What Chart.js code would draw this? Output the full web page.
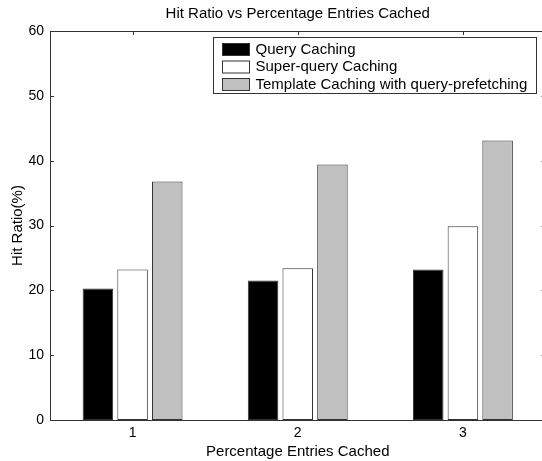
<!DOCTYPE html>
<html>
<head>
<meta charset="utf-8">
<script src="https://cdn.jsdelivr.net/npm/chart.js@4.4.0/dist/chart.umd.min.js"></script>
<style>
  html, body { margin: 0; padding: 0; background: #fff; overflow: hidden; }
  #wrap { width: 560px; height: 461px; }
</style>
</head>
<body>
<div id="wrap"><canvas id="mycanvas" width="560" height="461"></canvas></div>
<script>
var categories = ['1', '2', '3'];
var queryCaching = [20.3, 21.5, 23.2];
var superQueryCaching = [23.2, 23.4, 29.9];
var templateCaching = [36.8, 39.4, 43.1];
var yTicks = [0, 10, 20, 30, 40, 50, 60];
var chartTitle = 'Hit Ratio vs Percentage Entries Cached';

var FONT = '"Liberation Sans", Arial, Helvetica, sans-serif';
var EDGE = '#333333';

// matlab style box with inward ticks, title centred on the axes
var matlabAxes = {
	id: 'matlabAxes',
	beforeDatasetsDraw: function(chart) {
		var ctx = chart.ctx, a = chart.chartArea;
		var xs = chart.scales.x, ys = chart.scales.y;
		ctx.save();
		ctx.strokeStyle = EDGE;
		ctx.lineWidth = 1;
		ctx.beginPath();
		for (var i = 0; i < yTicks.length; i++) {
			var py = Math.round(ys.getPixelForValue(yTicks[i])) + 0.5;
			ctx.moveTo(a.left, py); ctx.lineTo(a.left + 4, py);
			ctx.moveTo(a.right, py); ctx.lineTo(a.right - 4, py);
		}
		for (var j = 0; j < categories.length; j++) {
			var px = Math.round(xs.getPixelForValue(j)) + 0.5;
			ctx.moveTo(px, a.top); ctx.lineTo(px, a.top + 4);
			ctx.moveTo(px, a.bottom); ctx.lineTo(px, a.bottom - 4);
		}
		ctx.stroke();
		ctx.fillStyle = '#000';
		ctx.font = '15px ' + FONT;
		ctx.textAlign = 'center';
		ctx.textBaseline = 'middle';
		ctx.fillText(chartTitle, (a.left + a.right) / 2, 14);
		ctx.restore();
	},
	afterDatasetsDraw: function(chart) {
		var ctx = chart.ctx, a = chart.chartArea;
		ctx.save();
		ctx.strokeStyle = EDGE;
		ctx.lineWidth = 1;
		ctx.strokeRect(Math.round(a.left) + 0.5, Math.round(a.top) + 0.5,
			Math.round(a.right - a.left), Math.round(a.bottom - a.top));
		ctx.restore();
	}
};

var boxLegend = {
	id: 'boxLegend',
	afterDraw: function(chart) {
		var ctx = chart.ctx;
		var ds = chart.data.datasets;
		ctx.save();
		ctx.fillStyle = '#fff';
		ctx.fillRect(213.5, 37.5, 323, 56);
		ctx.strokeStyle = EDGE;
		ctx.lineWidth = 1;
		ctx.strokeRect(213.5, 37.5, 323, 56);
		ctx.font = '15px ' + FONT;
		ctx.textBaseline = 'middle';
		for (var i = 0; i < ds.length; i++) {
			var top = 43 + i * 17.5;
			ctx.fillStyle = ds[i].backgroundColor;
			ctx.fillRect(222.5, top + 0.5, 27, 12);
			ctx.strokeStyle = EDGE;
			ctx.strokeRect(222.5, top + 0.5, 27, 12);
			ctx.fillStyle = '#000';
			ctx.fillText(ds[i].label, 255.5, top + 6.5);
		}
		ctx.restore();
	}
};

var chartdata = {
	labels: categories,
	datasets: [
		{ label: 'Query Caching', data: queryCaching, backgroundColor: '#000000' },
		{ label: 'Super-query Caching', data: superQueryCaching, backgroundColor: '#ffffff' },
		{ label: 'Template Caching with query-prefetching', data: templateCaching, backgroundColor: '#c0c0c0' }
	]
};
chartdata.datasets.forEach(function(d) {
	d.borderColor = EDGE;
	d.borderWidth = 1;
	d.borderSkipped = false;
	d.categoryPercentage = 0.63;
	d.barPercentage = 0.88;
});

var ctx = document.getElementById('mycanvas');
var barGraph = new Chart(ctx, {
	type: 'bar',
	data: chartdata,
	plugins: [matlabAxes, boxLegend],
	options: {
		responsive: false,
		animation: false,
		events: [],
		layout: { padding: { left: 0, right: 14.5, top: 31, bottom: 0 } },
		plugins: {
			legend: { display: false },
			tooltip: { enabled: false },
			title: { display: false }
		},
		scales: {
			x: {
				afterFit: function(s) { s.height = 41; },
				grid: { display: false, drawTicks: false },
				border: { display: false },
				ticks: { color: '#000', padding: 5, font: { family: FONT, size: 14 } },
				title: {
					display: true,
					text: 'Percentage Entries Cached',
					color: '#000',
					font: { family: FONT, size: 15, lineHeight: 1.2 },
					padding: { top: 0, bottom: 0 }
				}
			},
			y: {
				min: 0,
				max: 60,
				afterFit: function(s) { s.width = 50; },
				afterBuildTicks: function(s) { s.ticks = yTicks.map(function(v) { return { value: v }; }); },
				grid: { display: false, drawTicks: false },
				border: { display: false },
				ticks: { color: '#000', padding: 6, font: { family: FONT, size: 14 } },
				title: {
					display: true,
					text: 'Hit Ratio(%)',
					color: '#000',
					font: { family: FONT, size: 15, lineHeight: 1.2 },
					padding: { top: 9, bottom: 0 }
				}
			}
		}
	}
});
</script>
</body>
</html>
